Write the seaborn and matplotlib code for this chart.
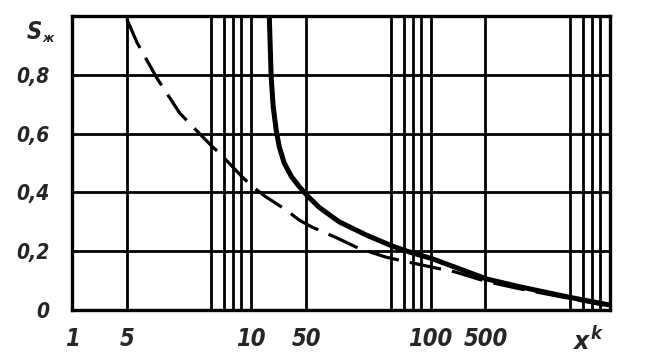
import numpy as np
import matplotlib
matplotlib.use("Agg")
import matplotlib.pyplot as plt
import seaborn as sns
from matplotlib import font_manager

# --- data ---
# solid curve
solid_x = [23.1, 24.5, 26.0, 28.2, 30.4, 34.0, 39.1, 44.9, 50.1, 51.5, 53.9, 57.1, 60.8, 75.6, 107, 282, 501, 539, 598, 980]
solid_y = [1.0, 0.79, 0.69, 0.61, 0.555, 0.50, 0.455, 0.42, 0.39, 0.35, 0.30, 0.255, 0.218, 0.198, 0.175, 0.145, 0.106, 0.080, 0.044, 0.018]
# dashed curve
dash_x = [5.0, 5.12, 5.353, 5.624, 5.859, 6.077, 6.615, 9.1, 10.7, 20.9, 35.5, 44.9, 50.7, 53.5, 56.2, 59.4, 66.2, 107, 282, 501, 539, 598, 930]
dash_y = [0.99, 0.91, 0.79, 0.67, 0.60, 0.555, 0.534, 0.452, 0.42, 0.384, 0.34, 0.306, 0.282, 0.247, 0.21, 0.18, 0.17, 0.146, 0.129, 0.097, 0.073, 0.04, 0.017]

x_tick_vals = [1, 5, 10, 50, 100, 500, 760]
x_tick_labels = ["1", "5", "10", "50", "100", "500", "$x^k$"]
x_grid_vals = [5, 6, 7, 8, 9, 10, 50, 60, 70, 80, 90, 100, 500, 600, 700, 800, 900]
y_tick_vals = [0, 0.2, 0.4, 0.6, 0.8]
y_tick_labels = ["0", "0,2", "0,4", "0,6", "0,8"]

# --- odd per-decade scale of the original chart ---
MANT = np.array([1, 5, 6, 7, 8, 9, 10], dtype=float)
UPOS = np.array([0, 55, 140, 153, 162, 170, 180], dtype=float) / 180.0

def fwd(x):
    x = np.clip(np.asarray(x, dtype=float), 1e-6, None)
    lx = np.log10(x) + 1e-12
    k = np.floor(lx)
    m = 10 ** (lx - k)
    return k + np.interp(m, MANT, UPOS)

def inv(p):
    p = np.asarray(p, dtype=float)
    k = np.floor(p)
    return np.interp(p - k, UPOS, MANT) * 10 ** k

sns.set_style("white")
names = {f.name for f in font_manager.fontManager.ttflist}
narrow = 'Liberation Sans Narrow' if 'Liberation Sans Narrow' in names else 'DejaVu Sans'
plt.rcParams['font.family'] = [narrow, 'DejaVu Sans']
plt.rcParams['mathtext.fontset'] = 'custom'
plt.rcParams['mathtext.it'] = narrow + ':italic:bold'
plt.rcParams['mathtext.rm'] = narrow + ':bold'
lab = dict(fontweight='bold', fontstyle='italic', fontstretch='condensed')

fig = plt.figure(figsize=(6.51, 3.61), dpi=100)
ax = fig.add_axes([72 / 651, 1 - 310 / 361, (610 - 72) / 651, (310 - 16) / 361])
ax.set_xscale('function', functions=(fwd, inv))
ax.set_xlim(1, 1000)
ax.set_ylim(0, 1.0)

for v in x_grid_vals:
    ax.axvline(v, color='black', lw=2.0, zorder=1)
for v in y_tick_vals[1:]:
    ax.axhline(v, color='black', lw=2.0, zorder=1)

sns.lineplot(x=solid_x, y=solid_y, ax=ax, color='black', lw=3.6, sort=False, zorder=3)
sns.lineplot(x=dash_x, y=dash_y, ax=ax, color='black', lw=2.3, sort=False, zorder=3,
             dashes=False, linestyle=(0, (10, 3.5)))

for s in ax.spines.values():
    s.set_visible(True)
    s.set_color('black')
    s.set_linewidth(2.4)

ax.set_xticks(x_tick_vals)
ax.set_xticklabels(x_tick_labels, fontsize=17, **lab)
ax.xaxis.set_minor_locator(matplotlib.ticker.NullLocator())
ax.set_yticks(y_tick_vals)
ax.set_yticklabels(y_tick_labels, fontsize=15, **lab)
ax.tick_params(axis='both', length=0)
ax.tick_params(axis='x', pad=12)
ax.tick_params(axis='y', pad=16)
ax.set_xlabel("")
ax.set_ylabel("")
ax.grid(False)

# axis name at the top of the y scale
fig.text(27 / 651, 1 - 32 / 361, "S", fontsize=17, va='center', **lab)
fig.text(42 / 651, 1 - 39 / 361, "ж", fontsize=9, va='center', **lab)

fig.savefig("out.png", dpi=100)
